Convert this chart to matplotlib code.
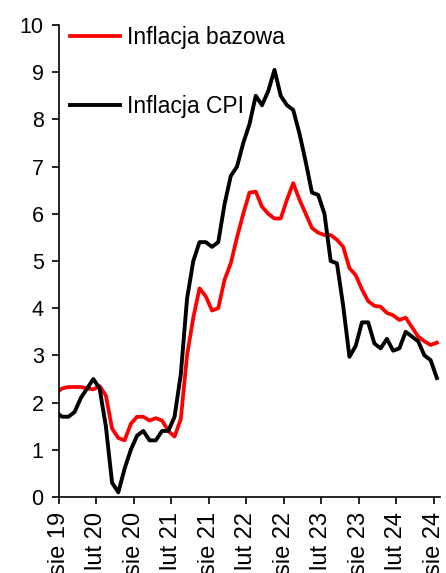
import numpy as np
import matplotlib.pyplot as plt

plt.rcParams['font.family'] = ['Liberation Sans', 'DejaVu Sans']

# monthly data, Jul 2019 .. Aug 2024 (first point only fills the left edge)
cpi = [1.8, 1.7, 1.7, 1.8, 2.1, 2.3,
       2.5, 2.3, 1.5, 0.3, 0.1, 0.6, 1.0, 1.3, 1.4, 1.2, 1.2, 1.4,
       1.4, 1.7, 2.6, 4.2, 5.0, 5.4, 5.4, 5.3, 5.4, 6.2, 6.8, 7.0,
       7.5, 7.9, 8.5, 8.3, 8.6, 9.05, 8.5, 8.3, 8.2, 7.7, 7.1, 6.45,
       6.4, 6.0, 5.0, 4.95, 4.05, 2.97, 3.2, 3.7, 3.7, 3.25, 3.15, 3.35,
       3.1, 3.15, 3.5, 3.4, 3.3, 3.0, 2.9, 2.52]
core = [2.2, 2.3, 2.33, 2.33, 2.33, 2.3,
        2.28, 2.35, 2.15, 1.45, 1.25, 1.2, 1.55, 1.7, 1.7, 1.62, 1.67, 1.62,
        1.4, 1.28, 1.65, 3.0, 3.8, 4.42, 4.25, 3.95, 4.0, 4.6, 4.95, 5.5,
        6.0, 6.45, 6.47, 6.15, 6.0, 5.9, 5.9, 6.3, 6.65, 6.3, 6.0, 5.7,
        5.6, 5.55, 5.55, 5.45, 5.3, 4.85, 4.7, 4.4, 4.15, 4.05, 4.03, 3.9,
        3.85, 3.75, 3.8, 3.6, 3.4, 3.3, 3.22, 3.27]
tick_labels = ['sie 19', 'lut 20', 'sie 20', 'lut 21', 'sie 21', 'lut 22',
               'sie 22', 'lut 23', 'sie 23', 'lut 24', 'sie 24']

x = np.arange(len(cpi)) - 1  # Aug 2019 = 0

fig = plt.figure(figsize=(4.46, 5.73), dpi=100)
ax = fig.add_axes([59/446, 1 - 497/573, 381/446, 472/573])

ax.plot(x, core, color='#ff0000', lw=2.7, label='Inflacja bazowa')
ax.plot(x, cpi, color='black', lw=2.8, label='Inflacja CPI')

ax.set_xlim(-0.5, 60.5)
ax.set_ylim(0, 10)
ax.set_yticks(range(0, 11))
ax.set_xticks(np.arange(0, 61, 6) - 0.5)
ax.set_xticklabels(tick_labels, rotation=90)
ax.tick_params(direction='out', length=5, width=1.2, color='black')
ax.tick_params(axis='y', labelsize=15.5, pad=6)
ax.tick_params(axis='x', labelsize=17, pad=6)

for s in ['top', 'right']:
    ax.spines[s].set_visible(False)
for s in ['left', 'bottom']:
    ax.spines[s].set_linewidth(1.2)

ax.legend(loc='upper left', bbox_to_anchor=(0.029, 0.998), frameon=False,
          fontsize=16.5, borderpad=0, borderaxespad=0, handlelength=2.2,
          handletextpad=0.3, labelspacing=2.0)

fig.savefig('out.png', dpi=100)
